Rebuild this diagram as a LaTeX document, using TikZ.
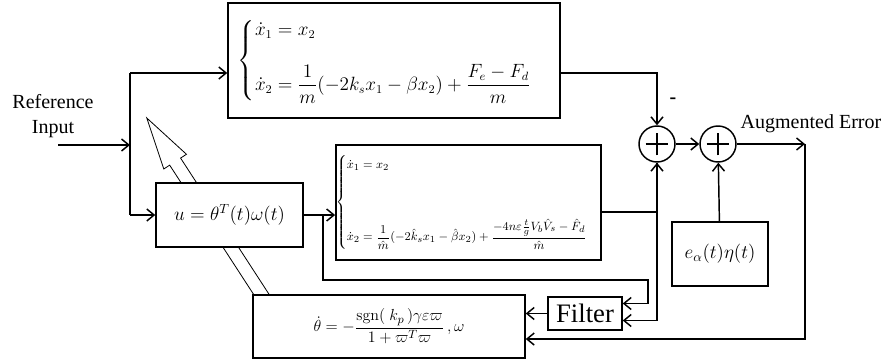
\documentclass[tikz,border=0pt]{standalone}
\usepackage{amsmath}
\usepackage[no-math]{fontspec}
\setmainfont{Liberation Serif}
\usetikzlibrary{arrows.meta,calc}

\begin{document}
\begin{tikzpicture}[x=0.75pt, y=-0.75pt, line width=1.1pt,
    >={Straight Barb[length=5.5pt,width=9pt]},
    block/.style={draw, fill=white, inner sep=0pt},
    sum/.style={draw, circle, minimum size=27pt, inner sep=0pt,
      path picture={
        \draw ([xshift=-8.5pt]path picture bounding box.center) -- ([xshift=8.5pt]path picture bounding box.center);
        \draw ([yshift=-8.5pt]path picture bounding box.center) -- ([yshift=8.5pt]path picture bounding box.center);}},
    lbl/.style={font=\fontsize{15}{19}\selectfont, inner sep=0pt}]
  \useasboundingbox (0,0) rectangle (888,360);

  % adaptation arrow behind the controller
  \begin{scope}[shift={(265,300)}, rotate=123, line width=0.6pt]
    \draw[fill=white] (0,-6.5) -- (165,-6.5) -- (165,-13.5) -- (217,0)
      -- (165,13.5) -- (165,6.5) -- (0,6.5) -- cycle;
  \end{scope}

  % blocks
  \node[block, minimum width=249pt, minimum height=86.25pt,
    font=\fontsize{13.5}{16}\selectfont] (plant) at (394,60.5)
    {$\begin{cases}\dot{x}_1 = x_2\\[16pt]
      \dot{x}_2 = \dfrac{1}{m}(-2k_s x_1 - \beta x_2) + \dfrac{F_e - F_d}{m}\end{cases}$};
  \node[block, minimum width=192.75pt, minimum height=86.25pt,
    font=\fontsize{9.5}{11}\selectfont] (model) at (468.5,202.5)
    {$\begin{cases}\dot{x}_1 = x_2\\[34pt]
      \dot{x}_2 = \dfrac{1}{\hat{m}}(-2\hat{k}_s x_1 - \hat{\beta} x_2) + \dfrac{-4n\varepsilon\frac{t}{g}V_b\hat{V}_s - \hat{F}_d}{\hat{m}}\end{cases}$};
  \node[block, minimum width=110.25pt, minimum height=48pt,
    font=\fontsize{14}{17}\selectfont] (ctrl) at (229.5,215)
    {$u = \theta^T(t)\omega(t)$};
  \node[block, minimum width=204pt, minimum height=47.25pt,
    font=\fontsize{12.5}{15}\selectfont] (law) at (389,326.5)
    {$\dot{\theta} = -\dfrac{\mathrm{sgn}(\ k_p\,)\gamma\varepsilon\varpi}{1+\varpi^T\varpi}\,,\omega$};
  \node[block, minimum width=55.5pt, minimum height=24.75pt,
    font=\fontsize{20}{24}\selectfont] (filter) at (585,313.5) {Filter};
  \node[block, minimum width=72pt, minimum height=48pt,
    font=\fontsize{14}{17}\selectfont] (ebox) at (720,254) {$e_\alpha(t)\eta(t)$};
  \node[sum] (sum1) at (657,144) {};
  \node[sum] (sum2) at (718,144) {};

  % texts
  \node[lbl, align=center] (ref) at (53,116) {Reference\\Input};
  \node[lbl, anchor=base west] (aug) at (740,128) {Augmented Error};
  \node[lbl, font=\fontsize{15}{19}\bfseries] (minus) at (673,101) {-};

  % connections
  \coordinate (in) at (58,145);
  \coordinate (ji) at (130,145);
  \coordinate (jt) at (130,73);
  \coordinate (jb) at (130,215);
  \coordinate (jc) at (323,215);
  \coordinate (jd) at (648,280);
  \coordinate (out) at (805,144);

  \draw[->] (in) -- (ji);
  \draw (jt) -- (jb);
  \draw[->] (jt) -- (jt -| plant.west);
  \draw[->] (jb) -- (ctrl.west);
  \draw[->] (ctrl.east) -- (ctrl.east -| model.west);
  \draw[->] (jc) |- (jd) |- ([yshift=7.5pt]filter.east);
  \draw[<->] ([yshift=-5.25pt]filter.east) -| (sum1.south);
  \draw ([yshift=-7pt]model.east) -| (sum1.south);
  \draw[->] ([yshift=-9.4pt]plant.east) -| (sum1.north);
  \draw[->] (sum1) -- (sum2);
  \draw[->] (ebox) -- (sum2);
  \draw[->] (sum2) -- (out);
  \draw[->] (out) |- ([yshift=-9.4pt]law.east);
  \draw[->] (filter) -- (filter -| law.east);
\end{tikzpicture}
\end{document}
